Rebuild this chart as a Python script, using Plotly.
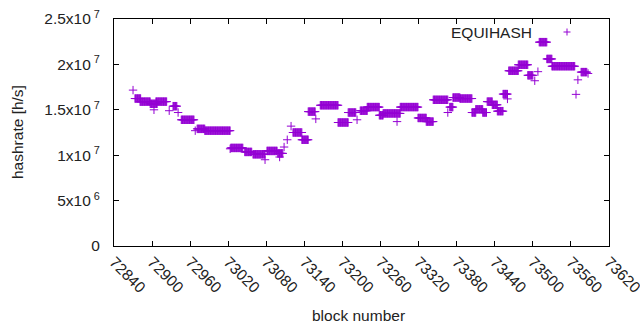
import plotly.graph_objects as go

# Piecewise-constant hashrate readings: each run covers blocks run_start..run_end (inclusive)
run_start = [72870, 72873, 72881, 72903, 72897, 72906, 72927, 72933, 72941, 72946,
             72968, 72971, 72983, 73023, 73024, 73046, 73059, 73078, 73081, 73098,
             73101, 73108, 73113, 73119, 73122, 73136, 73146, 73158, 73165, 73193,
             73209, 73223, 73228, 73239, 73258, 73264, 73286, 73291, 73319, 73332,
             73343, 73366, 73369, 73374, 73385, 73404, 73410, 73421, 73428, 73436,
             73444, 73453, 73460, 73462, 73477, 73492, 73503, 73508, 73510, 73522,
             73530, 73568, 73571, 73576, 73587]
run_end = [72870, 72882, 72897, 72903, 72908, 72923, 72927, 72939, 72941, 72966,
           72968, 72983, 73023, 73023, 73043, 73057, 73078, 73078, 73097, 73106,
           73101, 73108, 73113, 73119, 73136, 73146, 73157, 73158, 73193, 73209,
           73221, 73223, 73239, 73258, 73264, 73291, 73286, 73319, 73332, 73343,
           73366, 73366, 73374, 73385, 73404, 73410, 73421, 73427, 73436, 73444,
           73453, 73460, 73460, 73477, 73492, 73500, 73503, 73508, 73522, 73530,
           73566, 73568, 73571, 73585, 73587]
run_value = [1.717e7, 1.624e7, 1.59e7, 1.50e7, 1.566e7, 1.59e7, 1.49e7, 1.54e7, 1.47e7, 1.39e7,
             1.27e7, 1.29e7, 1.27e7, 1.07e7, 1.08e7, 1.036e7, 1.01e7, 0.95e7, 1.047e7, 1.02e7,
             0.98e7, 1.09e7, 1.17e7, 1.32e7, 1.25e7, 1.17e7, 1.48e7, 1.40e7, 1.55e7, 1.36e7,
             1.47e7, 1.39e7, 1.49e7, 1.53e7, 1.44e7, 1.46e7, 1.37e7, 1.53e7, 1.41e7, 1.37e7,
             1.61e7, 1.47e7, 1.53e7, 1.635e7, 1.624e7, 1.47e7, 1.505e7, 1.47e7, 1.59e7, 1.555e7,
             1.485e7, 1.673e7, 1.62e7, 1.93e7, 1.996e7, 1.88e7, 1.82e7, 1.92e7, 2.245e7, 2.06e7,
             1.98e7, 1.67e7, 1.83e7, 1.915e7, 1.90e7]

x_ticks = [72840, 72900, 72960, 73020, 73080, 73140, 73200, 73260, 73320,
           73380, 73440, 73500, 73560, 73620]
y_ticks = [0, 5e6, 1e7, 1.5e7, 2e7, 2.5e7]
y_tick_labels = ["0", "5x10<sup> 6</sup>", "1x10<sup> 7</sup>", "1.5x10<sup> 7</sup>",
                 "2x10<sup> 7</sup>", "2.5x10<sup> 7</sup>"]

# decode runs into one reading per block
xs, ys = [], []
for s, e, v in zip(run_start, run_end, run_value):
    for b in range(s, e + 1):
        xs.append(b)
        ys.append(v)

COLOR = "#9400D3"
FONT = "Liberation Sans, Arial, sans-serif"

fig = go.Figure()
fig.add_trace(go.Scatter(
    x=xs, y=ys, mode="markers", name="EQUIHASH",
    marker=dict(symbol="cross-thin", size=6, line=dict(color=COLOR, width=1), color=COLOR),
    showlegend=False,
))

L, R, T, B = 114, 31, 19, 84
W, H = 640, 330
pw, ph = W - L - R, H - T - B

fig.update_layout(
    width=W, height=H,
    margin=dict(l=L, r=R, t=T, b=B, pad=0, autoexpand=False),
    paper_bgcolor="white", plot_bgcolor="white",
    font=dict(family=FONT, size=15.5, color="#222222"),
    xaxis=dict(range=[72840, 73620], tickvals=x_ticks, ticktext=[str(t) for t in x_ticks],
               tickangle=45, ticks="inside", ticklen=5, tickcolor="black", automargin=False,
               ticklabeloverflow="allow",
               showline=True, linecolor="black", linewidth=1, mirror="ticks",
               showgrid=False, zeroline=False),
    yaxis=dict(range=[0, 2.5e7], tickvals=y_ticks, ticktext=y_tick_labels,
               ticks="inside", ticklen=5, tickcolor="black", ticklabelstandoff=10, automargin=False,
               showline=True, linecolor="black", linewidth=1, mirror="ticks",
               showgrid=False, zeroline=False),
    annotations=[
        dict(text="block number", xref="paper", yref="paper", x=(358 - L) / pw, y=-(315 - 246) / ph,
             xanchor="center", yanchor="middle", showarrow=False, font=dict(size=15.5)),
        dict(text="hashrate [h/s]", xref="paper", yref="paper", x=-(114 - 17) / pw, y=(246 - 132) / ph,
             xanchor="center", yanchor="middle", textangle=-90, showarrow=False, font=dict(size=15.5)),
        dict(text="EQUIHASH", xref="paper", yref="paper", x=(534 - L) / pw, y=(246 - 32) / ph,
             xanchor="right", yanchor="middle", showarrow=False, font=dict(size=15.5)),
    ],
)

# key sample marker
kx, ky = (567 - L) / pw, (246 - 32) / ph
dx, dy = 3.5 / pw, 3.5 / ph
fig.add_shape(type="line", xref="paper", yref="paper", x0=kx - dx, x1=kx + dx, y0=ky, y1=ky,
              line=dict(color=COLOR, width=1))
fig.add_shape(type="line", xref="paper", yref="paper", x0=kx, x1=kx, y0=ky - dy, y1=ky + dy,
              line=dict(color=COLOR, width=1))

fig.write_html("out.html", config={"displayModeBar": False},
               post_script="document.body.style.margin='0';document.body.style.padding='0';")
